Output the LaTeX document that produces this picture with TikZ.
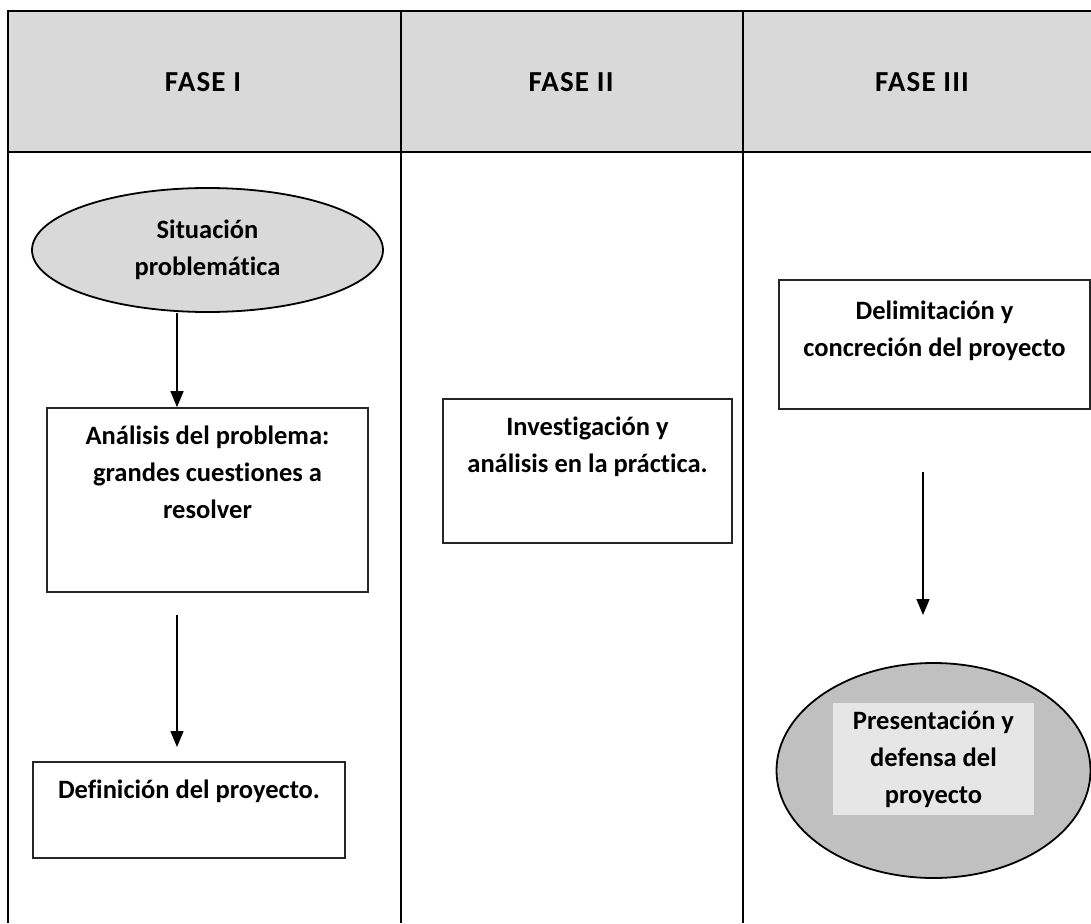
\documentclass[tikz,border=0pt]{standalone}
\usepackage{fontspec}
\setmainfont{Carlito}[Ligatures=NoCommon]
\newfontfamily\headfont{Carlito}[LetterSpace=4,Ligatures=NoCommon]
\usetikzlibrary{arrows.meta,shapes.geometric}
\definecolor{hdrgray}{HTML}{D9D9D9}
\definecolor{ellgray}{HTML}{D9D9D9}
\definecolor{ellgraydark}{HTML}{C0C0C0}
\definecolor{txtbg}{HTML}{E6E6E6}
\definecolor{boxline}{HTML}{262626}
\begin{document}
\begin{tikzpicture}[x=1pt,y=-1pt,
  tableline/.style={line width=2.4pt,black},
  hdr/.style={font=\headfont\bfseries\fontsize{29}{34}\selectfont, inner sep=0pt},
  body/.style={font=\bfseries\fontsize{26.5}{37}\selectfont, align=center, inner sep=0pt},
  flowbox/.style={draw=boxline, line width=1.6pt, rectangle, inner sep=0pt},
  flowell/.style={draw=black, line width=1.8pt, ellipse, inner sep=0pt},
  arr/.style={line width=1.5pt, -{Triangle[width=13pt,length=16pt]}}
]
\useasboundingbox (0,0) rectangle (1091,923);
% table
\fill[hdrgray] (8,11) rectangle (1091,152);
\draw[tableline] (1091,11) -- (8,11) -- (8,923);
\draw[line width=2.8pt] (8,152) -- (1091,152);
\draw[tableline] (401,11) -- (401,923);
\draw[tableline] (743,11) -- (743,923);
% headers
\node[hdr] (h1) at (203,82) {FASE I};
\node[hdr] (h2) at (571,82) {FASE II};
\node[hdr] (h3) at (922,82) {FASE III};
% phase I
\node[flowell, fill=ellgray, minimum width=351pt, minimum height=124pt, body] (sit) at (207.5,250) {\strut Situación\\problemática\strut};
\node[flowbox, minimum width=321pt, minimum height=184pt] (ana) at (207.5,500) {};
\node[body] (anat) at (207.5,474) {\strut Análisis del problema:\\grandes cuestiones a\\resolver\strut};
\node[flowbox, minimum width=312pt, minimum height=96pt] (def) at (189,810) {};
\node[body] (deft) at (189,790.8) {\strut Definición del proyecto.\strut};
% phase II
\node[flowbox, minimum width=289pt, minimum height=144pt] (inv) at (587.5,471) {};
\node[body] (invt) at (587.5,446.3) {\strut Investigación y\\análisis en la práctica.\strut};
% phase III
\node[flowbox, minimum width=311pt, minimum height=129pt] (del) at (934.5,344.5) {};
\node[body] (delt) at (934.5,331) {\strut Delimitación y\\concreción del proyecto\strut};
\node[flowell, fill=ellgraydark, minimum width=314pt, minimum height=215pt] (pre) at (933.5,770.5) {};
\node[body, fill=txtbg, minimum width=201pt, minimum height=112pt] (pret) at (933.5,759) {\strut Presentación y\\defensa del\\proyecto\strut};
% connectors
\coordinate (c1) at (177,0);
\draw[arr] (sit.south -| c1) -- (ana.north -| c1);
\coordinate (a2s) at (177,615);
\coordinate (a2e) at (177,747);
\draw[arr] (a2s) -- (a2e);
\coordinate (a3s) at (923,472);
\coordinate (a3e) at (923,615);
\draw[arr] (a3s) -- (a3e);
\end{tikzpicture}
\end{document}
